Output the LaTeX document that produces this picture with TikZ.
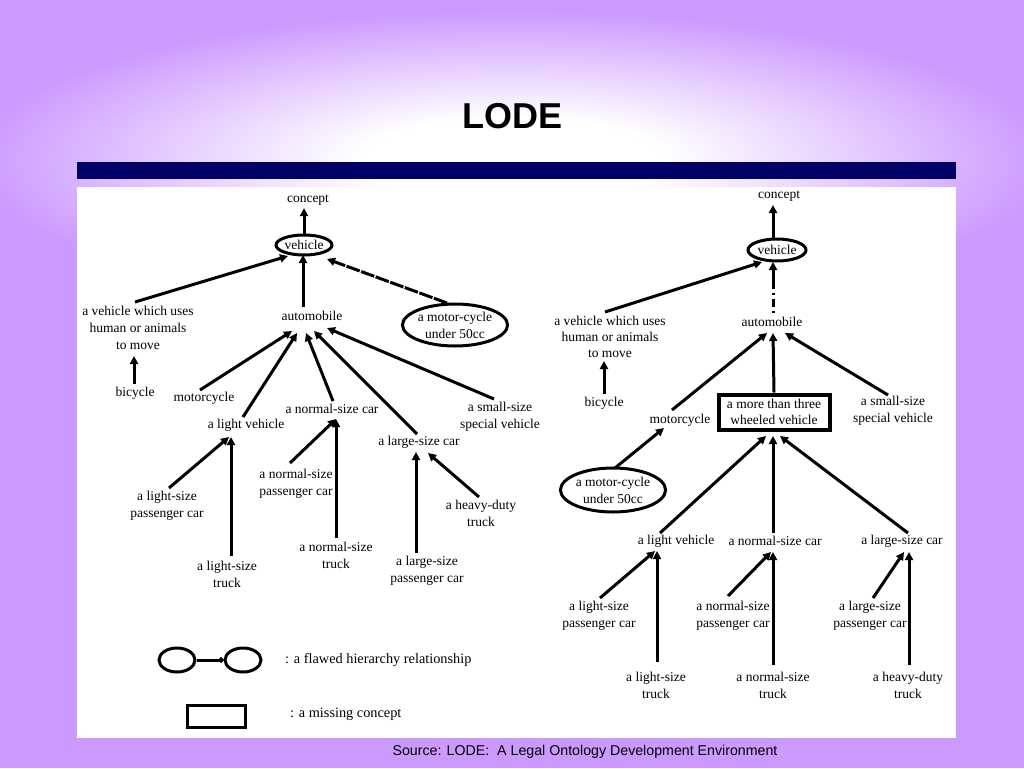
\documentclass[tikz,border=0pt]{standalone}
\usepackage{fontspec}
\setmainfont{Liberation Serif}
\newfontfamily\titlefont{Liberation Sans}
\usetikzlibrary{arrows.meta,shapes.geometric}
\definecolor{lav}{RGB}{204,153,255}
\definecolor{navybar}{RGB}{0,0,102}
\pgfdeclareradialshading{glow}{\pgfpoint{0bp}{0bp}}{color(0bp)=(white); color(7bp)=(white); color(25bp)=(lav); color(50bp)=(lav)}
\tikzset{
  t/.style={font=\fontsize{13.5}{17}\selectfont, align=center, inner sep=1pt},
  tr/.style={font=\fontsize{13.5}{16}\selectfont, align=center, inner sep=1pt},
  ell/.style={ellipse, draw, line width=3pt, inner sep=0pt, font=\fontsize{13.5}{17}\selectfont, align=center},
  arr/.style={line width=3pt, -{Triangle[length=8pt,width=8pt]}},
  lgtext/.style={font=\fontsize{14.3}{16}\selectfont, anchor=west, inner sep=0pt}
}
\begin{document}
\begin{tikzpicture}[x=1pt,y=-1pt]
\useasboundingbox (0,0) rectangle (1024,768);
% background
\fill[lav] (0,0) rectangle (1024,768);
\begin{scope}
\clip (0,0) rectangle (1024,768);
\shade[shading=glow] (512,160) ellipse [x radius=540, y radius=150];
\end{scope}
\fill[navybar] (77,162) rectangle (956,179);
\fill[white] (77,187) rectangle (956,738);
\node[font=\titlefont\bfseries\fontsize{36}{40}\selectfont] (title) at (512,116) {LODE};
\node[font=\titlefont\fontsize{14.2}{16}\selectfont] (src) at (585,752) {Source: LODE:\ \ A Legal Ontology Development Environment};

% ---------------- left tree ----------------
\node[t] (Lcon) at (308,200) {concept};
\node[ell, minimum width=56pt, minimum height=20pt] (Lveh) at (304,245) {vehicle};
\node[t] (Lvwu) at (138,328) {a vehicle which uses\\human or animals\\to move};
\node[t] (Lbic) at (135,393) {bicycle};
\node[t] (Lauto) at (312,316) {automobile};
\node[ell, minimum width=96pt, minimum height=42pt, font=\fontsize{13.5}{17}\selectfont] (Lmc50) at (455,325) {a motor-cycle\\under 50cc};
\node[t] (Lmoto) at (204,398) {motorcycle};
\node[t] (Llv) at (246,425) {a light vehicle};
\node[t] (Lnsc) at (332,409) {a normal-size car};
\node[t] (Llsc) at (419,442) {a large-size car};
\node[t] (Lssv) at (500,417) {a small-size\\special vehicle};
\node[t] (Llspc) at (167,506) {a light-size\\passenger car};
\node[t] (Llst) at (227,574) {a light-size\\truck};
\node[t] (Lnspc) at (296,484) {a normal-size\\passenger car};
\node[t] (Lnst) at (336,555) {a normal-size\\truck};
\node[t] (Llspc2) at (427,571) {a large-size\\passenger car};
\node[t] (Lhdt) at (481,513) {a heavy-duty\\truck};

\draw[arr] ([shift={(0,-9)}]Lveh.center) -- ([shift={(-4,8)}]Lcon.center);
\draw[arr] ([shift={(-3,-26)}]Lvwu.center) -- ([shift={(-16,11)}]Lveh.center);
\draw[arr] ([shift={(-9,-9)}]Lauto.center) -- ([shift={(-1,10)}]Lveh.center);
\draw[arr, dash pattern=on 14pt off 1.5pt] ([shift={(-8,-22)}]Lmc50.center) -- ([shift={(23,14)}]Lveh.center);
\draw[arr] ([shift={(-1,-9)}]Lbic.center) -- ([shift={(-4,28)}]Lvwu.center);
\draw[arr] ([shift={(-4,-8)}]Lmoto.center) -- ([shift={(-20,15)}]Lauto.center);
\draw[arr] ([shift={(-3,-8)}]Llv.center) -- ([shift={(-15,17)}]Lauto.center);
\draw[arr] ([shift={(1,-8)}]Lnsc.center) -- ([shift={(-6,17)}]Lauto.center);
\draw[arr] ([shift={(-2,-8)}]Llsc.center) -- ([shift={(2,15)}]Lauto.center);
\draw[arr] ([shift={(-6,-18)}]Lssv.center) -- ([shift={(15,12)}]Lauto.center);
\draw[arr] ([shift={(2,-18)}]Llspc.center) -- ([shift={(-17,12)}]Llv.center);
\draw[arr] ([shift={(4,-18)}]Llst.center) -- ([shift={(-15,12)}]Llv.center);
\draw[arr] ([shift={(-6,-21)}]Lnspc.center) -- ([shift={(4,10)}]Lnsc.center);
\draw[arr] ([shift={(0,-17)}]Lnst.center) -- ([shift={(4,10)}]Lnsc.center);
\draw[arr] ([shift={(-11,-18)}]Llspc2.center) -- ([shift={(-3,10)}]Llsc.center);
\draw[arr] ([shift={(-2,-16)}]Lhdt.center) -- ([shift={(9,11)}]Llsc.center);

% legend
\node[ellipse, draw, line width=3pt, minimum width=36pt, minimum height=24pt] (Lg1) at (177,660) {};
\node[ellipse, draw, line width=3pt, minimum width=36pt, minimum height=24pt] (Lg2) at (243,660) {};
\draw[line width=3pt, -{Circle[length=5pt]}] (Lg1.east) -- (Lg2.west);
\node[lgtext] (Lgt1) at (285,660) {: a flawed hierarchy relationship};
\node[draw, line width=3pt, minimum width=58pt, minimum height=22pt] (Lgbox) at (216,716) {};
\node[lgtext] (Lgt2) at (290,714) {: a missing concept};

% ---------------- right tree ----------------
\node[t] (Rcon) at (779,196) {concept};
\node[ell, minimum width=58pt, minimum height=22pt] (Rveh) at (777,250) {vehicle};
\node[tr] (Rvwu) at (610,337) {a vehicle which uses\\human or animals\\to move};
\node[t] (Rbic) at (604,403) {bicycle};
\node[t] (Rauto) at (772,322) {automobile};
\node[t] (Rmoto) at (680,420) {motorcycle};
\node[draw, line width=4pt, minimum width=111pt, minimum height=35pt, font=\fontsize{13.5}{16}\selectfont, align=center, inner sep=1pt] (Rbox) at (774,412) {a more than three\\wheeled vehicle};
\node[t] (Rssv) at (893,411) {a small-size\\special vehicle};
\node[ell, minimum width=96pt, minimum height=44pt] (Rmc50) at (613,490) {a motor-cycle\\under 50cc};
\node[t] (Rlv) at (676,541) {a light vehicle};
\node[t] (Rnsc) at (775,541) {a normal-size car};
\node[t] (Rlsc) at (902,541) {a large-size car};
\node[t] (Rlspc) at (599,616) {a light-size\\passenger car};
\node[t] (Rlst) at (656,685) {a light-size\\truck};
\node[t] (Rnspc) at (733,616) {a normal-size\\passenger car};
\node[t] (Rnst) at (773,685) {a normal-size\\truck};
\node[t] (Rlspc2) at (870,616) {a large-size\\passenger car};
\node[t] (Rhdt) at (908,685) {a heavy-duty\\truck};

\draw[arr] ([shift={(-4,-11)}]Rveh.center) -- ([shift={(-6,9)}]Rcon.center);
\draw[arr] ([shift={(-5,-25)}]Rvwu.center) -- ([shift={(-15,12)}]Rveh.center);
\coordinate (Rmid) at (773,284);
\draw[arr] (Rmid) -- ([shift={(-4,12)}]Rveh.center);
\draw[line width=3pt, dash pattern=on 2pt off 4pt on 8pt off 4pt] ([shift={(1,-9)}]Rauto.center) -- (Rmid);
\draw[arr] ([shift={(0,-9)}]Rbic.center) -- ([shift={(-6,24)}]Rvwu.center);
\draw[arr] ([shift={(-8,-10)}]Rmoto.center) -- ([shift={(-5,11)}]Rauto.center);
\draw[arr] (Rbox.north) -- ([shift={(1,11)}]Rauto.center);
\draw[arr] ([shift={(-5,-16)}]Rssv.center) -- ([shift={(13,11)}]Rauto.center);
\draw[arr] ([shift={(2,-22)}]Rmc50.center) -- ([shift={(-16,8)}]Rmoto.center);
\draw[arr] ([shift={(-16,-8)}]Rlv.center) -- ([shift={(-8,24)}]Rbox.center);
\draw[arr] ([shift={(-2,-8)}]Rnsc.center) -- ([shift={(-1,24)}]Rbox.center);
\draw[arr] ([shift={(6,-8)}]Rlsc.center) -- ([shift={(6,24)}]Rbox.center);
\draw[arr] ([shift={(1,-18)}]Rlspc.center) -- ([shift={(-21,10)}]Rlv.center);
\draw[arr] ([shift={(1,-23)}]Rlst.center) -- ([shift={(-19,10)}]Rlv.center);
\draw[arr] ([shift={(-5,-20)}]Rnspc.center) -- ([shift={(-4,11)}]Rnsc.center);
\draw[arr] ([shift={(0,-20)}]Rnst.center) -- ([shift={(-2,11)}]Rnsc.center);
\draw[arr] ([shift={(3,-18)}]Rlspc2.center) -- ([shift={(2,11)}]Rlsc.center);
\draw[arr] ([shift={(1,-20)}]Rhdt.center) -- ([shift={(7,11)}]Rlsc.center);
\end{tikzpicture}
\end{document}
